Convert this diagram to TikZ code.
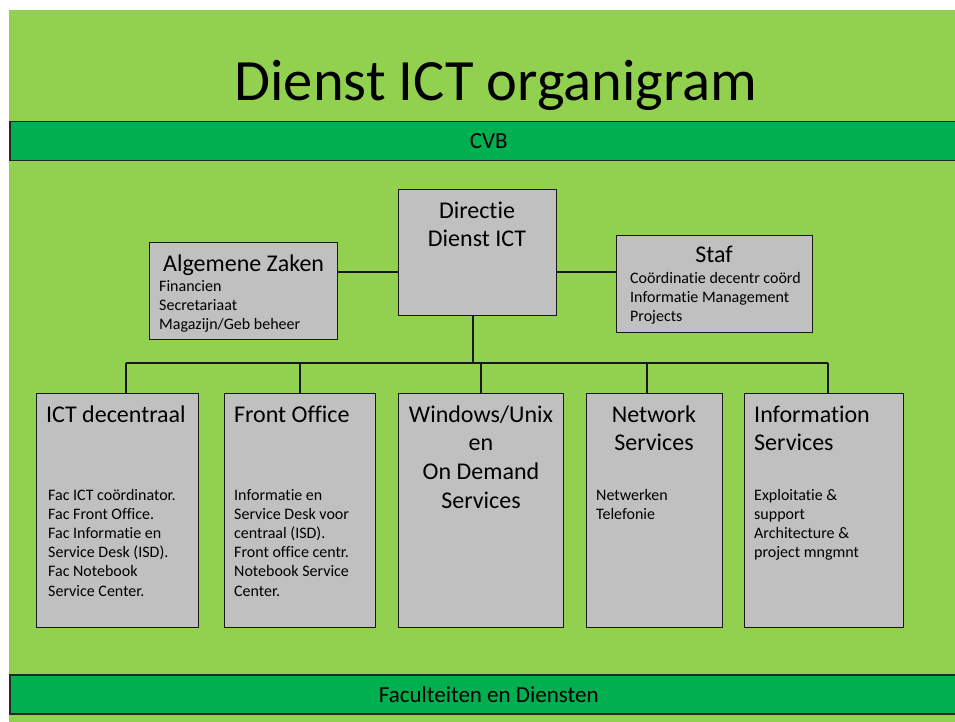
\documentclass[tikz,border=0pt]{standalone}
\usepackage{fontspec}
\setmainfont[Ligatures=NoCommon]{Carlito}
\definecolor{slidegreen}{HTML}{92D050}
\definecolor{bandgreen}{HTML}{00B050}
\definecolor{boxgray}{HTML}{C0C0C0}

\tikzset{
  unitbox/.style={draw=black!90, fill=boxgray, line width=1.2pt, inner sep=0pt, anchor=north west},
  band/.style={draw=black!85, fill=bandgreen, line width=1.5pt, inner sep=0pt, anchor=north west,
    minimum width=958pt, minimum height=39pt, font=\fontsize{23}{27}\selectfont},
  big/.style={inner sep=0pt, font=\fontsize{24}{28.8}\selectfont},
  small/.style={inner sep=0pt, align=left, font=\fontsize{16}{19.2}\selectfont},
  link/.style={line width=1.2pt, black!90},
}

\begin{document}
\begin{tikzpicture}[x=1pt, y=-1pt]
\useasboundingbox (0,0) rectangle (955,722);
\fill[slidegreen] (9,10) rectangle (955,722);

\node[font=\fontsize{58.5}{70}\selectfont, inner sep=0pt, anchor=base] (title) at (496,101) {Dienst ICT organigram};
\node[band] (cvb) at (9,121) {CVB};
\node[band] (fac) at (9,674) {Faculteiten en Diensten};

% top level (base = baseline of last line)
\node[unitbox, minimum width=158pt, minimum height=126pt] (dir) at (398,189) {};
\node[unitbox, minimum width=188pt, minimum height=97pt] (alg) at (149,242) {};
\node[unitbox, minimum width=196pt, minimum height=97pt] (staf) at (616,235) {};

\node[big, align=center, anchor=base] (dirtxt) at (477,246.8) {Directie\\Dienst ICT};
\node[big, anchor=base west] (algtxt) at (163,271) {Algemene Zaken};
\node[small, anchor=base west] (alglist) at (159,329.4) {Financien\\Secretariaat\\Magazijn/Geb beheer};
\node[big, anchor=base] (staftxt) at (714,262) {Staf};
\node[small, anchor=base west] (staflist) at (630,321.4) {Coördinatie decentr coörd\\Informatie Management\\Projects};

% afdelingen
\node[unitbox, minimum width=162pt, minimum height=234pt] (ict) at (36,393) {};
\node[unitbox, minimum width=151pt, minimum height=234pt] (fo) at (224,393) {};
\node[unitbox, minimum width=165pt, minimum height=234pt] (win) at (398,393) {};
\node[unitbox, minimum width=136pt, minimum height=234pt] (net) at (586,393) {};
\node[unitbox, minimum width=159pt, minimum height=234pt] (info) at (744,393) {};

\node[big, anchor=base west] (icttxt) at (46,422) {ICT decentraal};
\node[small, anchor=base west] (ictlist) at (48,596) {Fac ICT coördinator.\\Fac Front Office.\\Fac Informatie en\\Service Desk (ISD).\\Fac Notebook\\Service Center.};
\node[big, anchor=base west] (fotxt) at (234,422) {Front Office};
\node[small, anchor=base west] (folist) at (234,596) {Informatie en\\Service Desk voor\\centraal (ISD).\\Front office centr.\\Notebook Service\\Center.};
\node[big, align=center, anchor=base] (wintxt) at (481,508.4) {Windows/Unix\\en\\On Demand\\Services};
\node[big, align=center, anchor=base] (nettxt) at (654,450.8) {Network\\Services};
\node[small, anchor=base west] (netlist) at (596,519.2) {Netwerken\\Telefonie};
\node[big, align=left, anchor=base west] (infotxt) at (754,450.8) {Information\\Services};
\node[small, anchor=base west] (infolist) at (754,557.6) {Exploitatie \&\\support\\Architecture \&\\project mngmnt};

% lijnen
\coordinate (staff) at (0,272);
\coordinate (d0) at (473,363);
\coordinate (d1) at (126,363);
\coordinate (d2) at (300,363);
\coordinate (d3) at (481,363);
\coordinate (d4) at (647,363);
\coordinate (d5) at (828,363);
\draw[link] (alg.east |- staff) -- (dir.west |- staff);
\draw[link] (dir.east |- staff) -- (staf.west |- staff);
\draw[link] (d0 |- dir.south) -- (d0);
\draw[link] (d1) -- (d5);
\foreach \d/\n in {d1/ict, d2/fo, d3/win, d4/net, d5/info}
  \draw[link] (\d) -- (\d |- \n.north);
\end{tikzpicture}
\end{document}
